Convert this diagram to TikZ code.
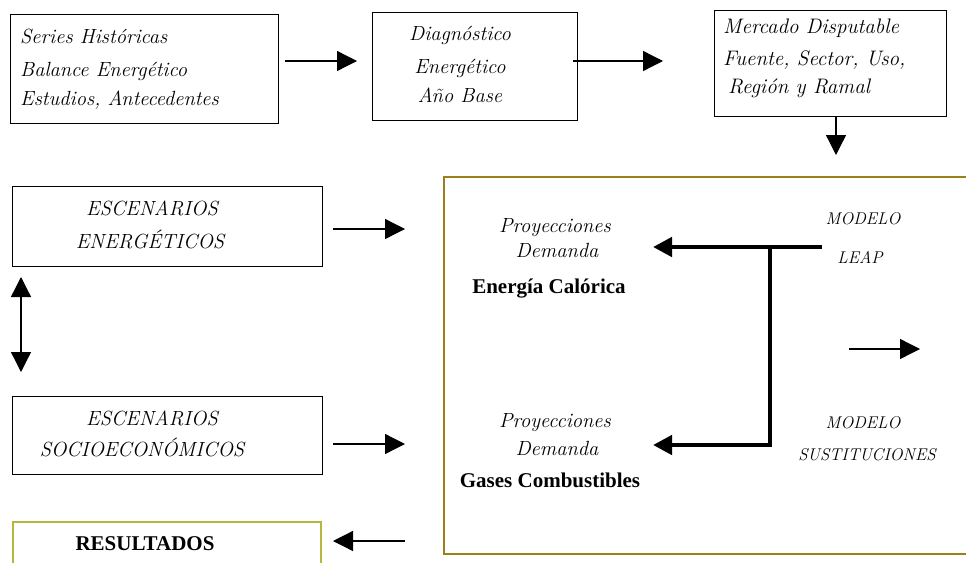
\documentclass[tikz,border=0pt]{standalone}
\usepackage{fontspec}
\usetikzlibrary{arrows.meta}
\newfontfamily\boldface{Liberation Serif}
\definecolor{goldline}{HTML}{9C7F1A}
\definecolor{oliveline}{HTML}{B5B83A}
\newcommand{\scrtxt}{\fontsize{20.5}{22}\selectfont\itshape}
\newcommand{\scrbig}{\fontsize{21}{23}\selectfont\itshape}
\newcommand{\scrcap}{\fontsize{20.5}{22}\selectfont\itshape}
\newcommand{\scrcapsm}{\fontsize{17}{18}\selectfont\itshape}
\newcommand{\bldtxt}{\boldface\fontsize{21}{23}\selectfont\bfseries}
\begin{document}
\begin{tikzpicture}[x=1pt,y=-1pt,
  box/.style={draw, line width=1.3pt, inner sep=0pt, anchor=north west},
  lbl/.style={inner sep=0pt, font=\scrtxt},
  lblbig/.style={inner sep=0pt, font=\scrbig},
  capstyle/.style={inner sep=0pt, font=\scrcap},
  capsmall/.style={inner sep=0pt, font=\scrcapsm},
  bold/.style={inner sep=0pt, font=\bldtxt},
  arr/.style={line width=1.3pt, -{Triangle[length=20pt,width=20pt]}},
  darr/.style={line width=1.3pt, {Triangle[length=20pt,width=20pt]}-{Triangle[length=20pt,width=20pt]}},
  tarr/.style={line width=4.5pt, -{Triangle[length=19pt,width=19pt]}}]
\clip (0,0) rectangle (966,562);
\fill[white] (0,0) rectangle (966,562);

% boxes
\node[box, minimum width=268pt, minimum height=109pt] (b1) at (10,14) {};
\node[box, minimum width=205pt, minimum height=108pt] (b2) at (372,12) {};
\node[box, minimum width=232pt, minimum height=106pt] (b3) at (714,10) {};
\node[box, minimum width=310pt, minimum height=80pt] (e1) at (12,186) {};
\node[box, minimum width=310pt, minimum height=78pt] (e2) at (12,396) {};
\node[box, draw=oliveline, line width=1.5pt, minimum width=308pt, minimum height=70pt] (res) at (12,521) {};
\node[box, draw=goldline, line width=2pt, minimum width=580pt, minimum height=377pt] (big) at (443,176) {};

% box 1 text
\node[lbl, anchor=base west] (t11) at (20,43) {Series Históricas};
\node[lbl, anchor=base west] (t12) at (20,76) {Balance Energético};
\node[lbl, anchor=base west] (t13) at (20,105) {Estudios, Antecedentes};
% box 2 text
\node[lbl, anchor=base] (t21) at (460,40) {Diagnóstico};
\node[lbl, anchor=base] (t22) at (460,73) {Energético};
\node[lbl, anchor=base] (t23) at (460,102) {Año Base};
% box 3 text
\node[lblbig, anchor=base west] (t31) at (723,33) {Mercado Disputable};
\node[lblbig, anchor=base west] (t32) at (723,65) {Fuente, Sector, Uso,};
\node[lblbig, anchor=base west] (t33) at (728,93) {Región y Ramal};
% escenarios
\node[capstyle, anchor=base] (te11) at (152,215) {ESCENARIOS};
\node[capstyle, anchor=base] (te12) at (150,248) {ENERGÉTICOS};
\node[capstyle, anchor=base] (te21) at (152,425) {ESCENARIOS};
\node[capstyle, anchor=base] (te22) at (142,456) {SOCIOECONÓMICOS};
\node[bold, anchor=base] (tres) at (145,550) {RESULTADOS};
% proyecciones
\node[lbl, anchor=base] (p11) at (555,232) {Proyecciones};
\node[lbl, anchor=base] (p12) at (557,257) {Demanda};
\node[bold, anchor=base] (p13) at (549,293) {Energía Calórica};
\node[lbl, anchor=base] (p21) at (555,427) {Proyecciones};
\node[lbl, anchor=base] (p22) at (557,455) {Demanda};
\node[bold, anchor=base] (p23) at (550,487) {Gases Combustibles};
% modelos
\node[capsmall, anchor=base] (m11) at (863,224) {MODELO};
\node[capsmall, anchor=base] (m12) at (860,263) {LEAP};
\node[capsmall, anchor=base] (m21) at (863,428) {MODELO};
\node[capsmall, anchor=base] (m22) at (867,460) {SUSTITUCIONES};

% connectors
\coordinate (a12s) at (285,61);
\coordinate (a12e) at (357,61);
\draw[arr] (a12s) -- (a12e);
\coordinate (a23s) at (573,61);
\coordinate (a23e) at (663,61);
\draw[arr] (a23s) -- (a23e);
\coordinate (a3s) at (836,116);
\coordinate (a3e) at (836,155);
\draw[arr] (a3s) -- (a3e);
\coordinate (ae1s) at (333,229);
\coordinate (ae1e) at (405,229);
\draw[arr] (ae1s) -- (ae1e);
\coordinate (ae2s) at (333,444);
\coordinate (ae2e) at (405,444);
\draw[arr] (ae2s) -- (ae2e);
\coordinate (ars) at (405,541);
\coordinate (are) at (333,541);
\draw[arr] (ars) -- (are);
\coordinate (ds) at (21,277);
\coordinate (de) at (21,372);
\draw[darr] (ds) -- (de);
\coordinate (rs) at (849,349);
\coordinate (re) at (920,349);
\draw[arr] (rs) -- (re);
% thick connectors
\coordinate (ls) at (822,247);
\coordinate (lj) at (770,247);
\coordinate (lb) at (770,445);
\coordinate (le1) at (653,247);
\coordinate (le2) at (653,445);
\draw[tarr] (ls) -- (le1);
\draw[tarr, line join=miter] ([yshift=-2.25pt]lj) -- (lb) -- (le2);
\end{tikzpicture}
\end{document}
